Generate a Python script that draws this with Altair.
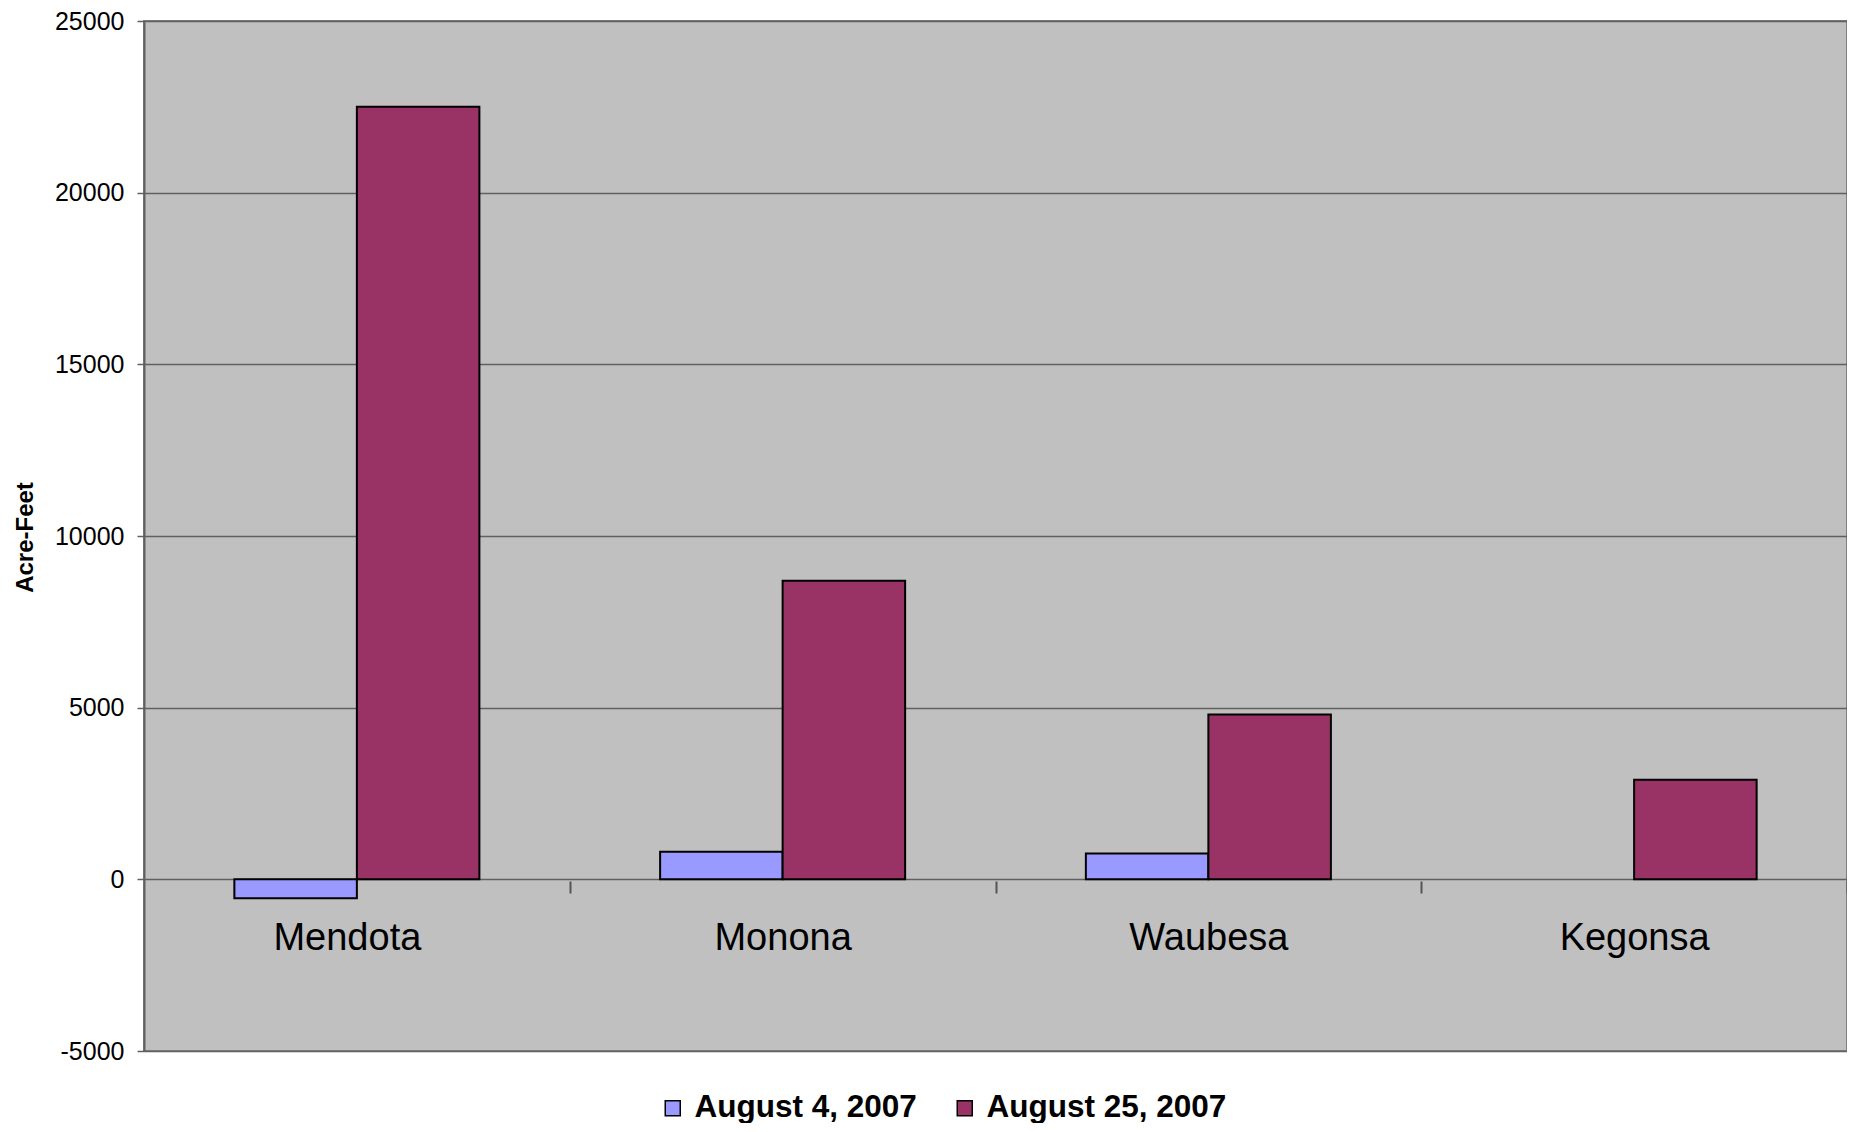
import altair as alt
import pandas as pd

lakes = ["Mendota", "Monona", "Waubesa", "Kegonsa"]
series_names = ["August 4, 2007", "August 25, 2007"]
aug4 = [-550, 800, 750, None]
aug25 = [22500, 8700, 4800, 2900]
y_ticks = [-5000, 0, 5000, 10000, 15000, 20000, 25000]
colors = ["#9999FF", "#993366"]

rows = []
for lake, a, b in zip(lakes, aug4, aug25):
    for name, v in zip(series_names, (a, b)):
        if v is not None:
            rows.append({"lake": lake, "series": name, "value": v})
df = pd.DataFrame(rows)

FONT = "Liberation Sans"
W = 1703
H = 1030
HALF_STEP = W / len(lakes) / 2

chart = alt.Chart(df).mark_bar(stroke="black", strokeWidth=2).encode(
    x=alt.X(
        "lake:N",
        sort=lakes,
        scale=alt.Scale(paddingInner=0.4245, paddingOuter=0.21225),
        axis=alt.Axis(
            title=None,
            labelAngle=0,
            labelFont=FONT,
            labelFontSize=38,
            labelColor="black",
            ticks=True,
            tickOffset=HALF_STEP,
            labelOffset={
                "condition": {"test": "datum.value === 'Mendota'", "value": -HALF_STEP - 10},
                "value": -HALF_STEP,
            },
            tickSize=12,
            tickColor="#555555",
            tickWidth=2,
            domain=False,
            grid=False,
            offset=-170,
            labelPadding=26,
        ),
    ),
    xOffset=alt.XOffset("series:N", sort=series_names,
                        scale=alt.Scale(domain=series_names, paddingInner=0, paddingOuter=0)),
    y=alt.Y(
        "value:Q",
        scale=alt.Scale(domain=[-5000, 25000], nice=False, zero=False),
        axis=alt.Axis(
            values=y_ticks,
            labelExpr="'' + datum.value",
            title="Acre-Feet",
            titleFont=FONT,
            titleFontSize=24,
            titleFontWeight="bold",
            titleColor="black",
            titleAngle=270,
            titleAlign="center",
            titleBaseline="middle",
            titleX=-119,
            titleY=516,
            labelFont=FONT,
            labelFontSize=25,
            labelColor="black",
            labelPadding=13,
            domainColor="#606060",
            domainWidth=2,
            tickColor="#606060",
            tickSize=7,
            tickWidth=1.5,
            gridColor="#606060",
            gridWidth=1.5,
        ),
    ),
    color=alt.Color(
        "series:N",
        sort=series_names,
        scale=alt.Scale(domain=series_names, range=colors),
        legend=alt.Legend(
            title=None,
            orient="none",
            legendX=513,
            legendY=1071,
            direction="horizontal",
            symbolType="square",
            symbolSize=225,
            symbolStrokeColor="black",
            symbolStrokeWidth=1.5,
            symbolOpacity=1,
            labelFont=FONT,
            labelFontSize=31.5,
            labelFontWeight="bold",
            labelColor="black",
            labelOffset=6,
            labelLimit=400,
            columnPadding=32,
        ),
    ),
).properties(
    width=W,
    height=H,
    autosize=alt.AutoSizeParams(type="none"),
    padding={"left": 136, "top": 13, "right": 0, "bottom": 72},
    background="white",
).configure_view(
    fill="#C0C0C0",
    stroke="#808080",
    strokeWidth=2,
)

chart.save("out.html", embed_options={"renderer": "svg", "actions": False})
